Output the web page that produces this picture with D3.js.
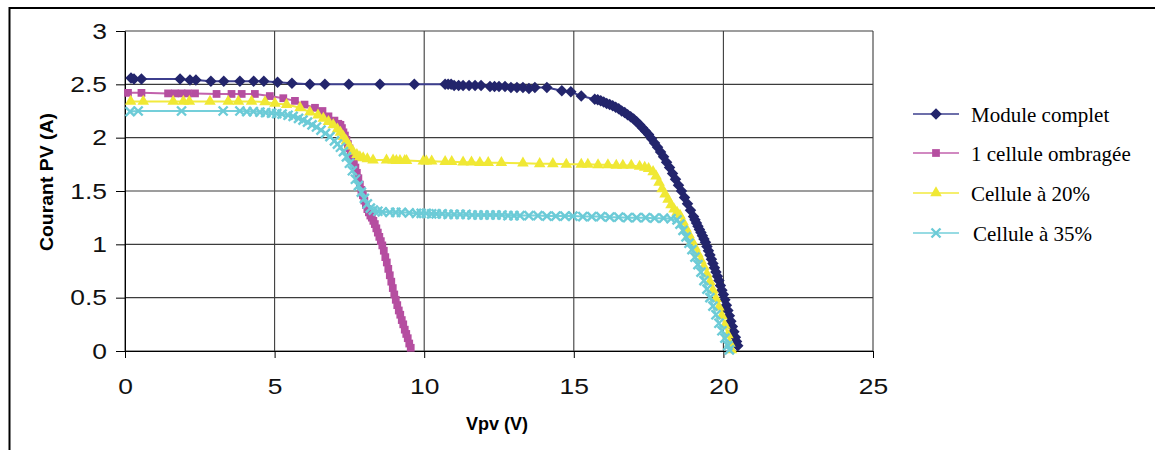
<!DOCTYPE html>
<html>
<head>
<meta charset="utf-8">
<script src="https://cdn.jsdelivr.net/npm/d3@7"></script>
<style>
body { margin: 0; background: #fff; }
</style>
</head>
<body>
<div id="chart"></div>
<script>
// data
const xTicks = [0, 5, 10, 15, 20, 25];
const yTicks = [0, 0.5, 1, 1.5, 2, 2.5, 3];
const seriesNames = ['Module complet', '1 cellule ombragée', 'Cellule à 20%', 'Cellule à 35%'];

const moduleV = [0.2, 0.3, 0.55, 1.84, 2.17, 2.37, 2.87, 3.3, 3.84, 4.3, 4.64, 5.1, 5.58, 6.18, 6.68, 7.48, 8.52, 9.67,
  10.7, 10.8, 10.9, 11.0, 11.15, 11.3, 11.5, 11.7, 11.9, 12.2, 12.35, 12.5, 12.7, 12.9, 13.1, 13.3, 13.5, 13.7, 14.1,
  14.6, 14.9, 15.25, 15.7, 15.8, 15.9, 16.0, 16.1, 16.2, 16.3, 16.4, 16.5, 16.6, 16.7, 16.8, 16.9, 17.0, 17.1, 17.2,
  17.3, 17.4, 17.5, 17.6, 17.7, 17.8, 17.9, 18.0, 18.1, 18.2, 18.3, 18.4, 18.5, 18.6, 18.7, 18.8, 18.9, 19.0, 19.05,
  19.1, 19.15, 19.2, 19.25, 19.3, 19.35, 19.4, 19.45, 19.5, 19.55, 19.6, 19.65, 19.7, 19.75, 19.8, 19.85, 19.9, 19.95,
  20.0, 20.05, 20.1, 20.15, 20.2, 20.25, 20.3, 20.35, 20.4, 20.44, 20.48];
const moduleI = [2.56, 2.55, 2.55, 2.55, 2.54, 2.54, 2.53, 2.53, 2.53, 2.53, 2.53, 2.52, 2.51, 2.5, 2.5, 2.5, 2.5, 2.5,
  2.5, 2.5, 2.5, 2.49, 2.49, 2.49, 2.49, 2.49, 2.49, 2.48, 2.48, 2.48, 2.48, 2.47, 2.47, 2.47, 2.46, 2.47, 2.47,
  2.44, 2.43, 2.39, 2.36, 2.355, 2.345, 2.335, 2.32, 2.31, 2.3, 2.285, 2.27, 2.25, 2.235, 2.215, 2.195, 2.175, 2.15, 2.12,
  2.09, 2.06, 2.03, 1.99, 1.95, 1.91, 1.865, 1.82, 1.77, 1.72, 1.665, 1.61, 1.555, 1.5, 1.44, 1.38, 1.32, 1.26, 1.23,
  1.2, 1.17, 1.14, 1.11, 1.08, 1.05, 1.02, 0.98, 0.94, 0.9, 0.86, 0.82, 0.78, 0.74, 0.7, 0.66, 0.615, 0.57,
  0.53, 0.48, 0.43, 0.38, 0.33, 0.28, 0.23, 0.18, 0.13, 0.09, 0.05];

const shadedV = [0.1, 0.55, 1.44, 1.67, 1.89, 2.1, 2.34, 3.06, 3.56, 3.9, 4.34, 4.84, 5.29, 5.68, 6.0, 6.35, 6.6, 6.8, 7.0, 7.13,
  7.2, 7.25, 7.3, 7.35, 7.4, 7.45, 7.5, 7.55, 7.6, 7.65, 7.7, 7.75, 7.8, 7.85, 7.9, 7.95, 8.0, 8.05, 8.1, 8.15, 8.2, 8.25,
  8.3, 8.35, 8.4, 8.45, 8.5, 8.55, 8.6, 8.65, 8.7, 8.75, 8.8, 8.85, 8.9, 8.95, 9.0, 9.05, 9.1, 9.15, 9.2, 9.25, 9.3, 9.35,
  9.4, 9.45, 9.5, 9.55];
const shadedI = [2.42, 2.42, 2.415, 2.415, 2.415, 2.415, 2.415, 2.41, 2.41, 2.41, 2.41, 2.39, 2.37, 2.345, 2.31, 2.28, 2.25, 2.2, 2.16, 2.13,
  2.12, 2.09, 2.05, 2.02, 1.98, 1.94, 1.9, 1.86, 1.81, 1.77, 1.72, 1.67, 1.62, 1.56, 1.51, 1.46, 1.41, 1.37, 1.33, 1.3, 1.27, 1.25,
  1.22, 1.19, 1.15, 1.11, 1.07, 1.03, 0.99, 0.94, 0.88, 0.83, 0.77, 0.71, 0.65, 0.59, 0.53, 0.48, 0.43, 0.38, 0.34, 0.29, 0.25, 0.2,
  0.16, 0.12, 0.07, 0.03];

const cell20V = [0.19, 0.61, 1.61, 1.95, 2.15, 2.84, 3.45, 3.79, 4.23, 4.68, 5.01, 5.4, 5.85, 6.18, 6.45, 6.63, 6.8, 6.96, 7.1, 7.2,
  7.3, 7.4, 7.5, 7.62, 7.75, 7.85, 7.96, 8.1, 8.29, 8.74, 8.96, 9.07, 9.19, 9.35, 9.41, 9.97, 10.07, 10.25, 10.7, 10.92, 11.3,
  11.58, 11.86, 12.14, 12.58, 13.3, 13.86, 14.3, 14.75, 15.25, 15.47, 15.81, 16.14, 16.42, 16.64, 16.92, 17.2, 17.37, 17.5,
  17.65, 17.75, 17.85, 17.95, 18.05, 18.15, 18.25, 18.35, 18.45, 18.55, 18.65, 18.75, 18.85, 18.95, 19.05, 19.15, 19.25,
  19.35, 19.45, 19.55, 19.65, 19.75, 19.85, 19.95, 20.05, 20.15, 20.22, 20.27];
const cell20I = [2.34, 2.34, 2.34, 2.34, 2.34, 2.34, 2.34, 2.34, 2.34, 2.335, 2.32, 2.31, 2.28, 2.24, 2.21, 2.18, 2.15, 2.12, 2.08, 2.05,
  2.01, 1.97, 1.92, 1.87, 1.84, 1.82, 1.81, 1.8, 1.79, 1.79, 1.79, 1.785, 1.785, 1.785, 1.785, 1.78, 1.78, 1.78, 1.775, 1.775, 1.77,
  1.77, 1.765, 1.765, 1.765, 1.76, 1.755, 1.755, 1.75, 1.75, 1.75, 1.745, 1.745, 1.74, 1.74, 1.74, 1.73, 1.72, 1.71,
  1.68, 1.64, 1.58, 1.52, 1.47, 1.42, 1.37, 1.33, 1.3, 1.27, 1.21, 1.15, 1.09, 1.03, 0.97, 0.91, 0.85,
  0.79, 0.72, 0.65, 0.57, 0.49, 0.41, 0.33, 0.24, 0.15, 0.07, 0.01];

const cell35V = [0.17, 0.44, 1.89, 3.28, 3.84, 4.07, 4.29, 4.51, 4.7, 4.9, 5.07, 5.25, 5.45, 5.62, 5.8, 5.95, 6.1, 6.25, 6.4, 6.55,
  6.7, 6.85, 7.0, 7.1, 7.2, 7.3, 7.4, 7.5, 7.6, 7.7, 7.8, 7.9, 8.0, 8.1, 8.2, 8.3, 8.45, 8.6, 8.85, 9.05, 9.24, 9.5, 9.74, 9.9,
  10.07, 10.25, 10.4, 10.6, 10.8, 11.0, 11.2, 11.4, 11.6, 11.8, 12.0, 12.2, 12.4, 12.6, 12.8, 13.0, 13.2, 13.5, 13.8, 14.1,
  14.4, 14.7, 14.97, 15.3, 15.6, 15.9, 16.2, 16.5, 16.8, 17.1, 17.4, 17.7, 18.0, 18.25, 18.45, 18.55, 18.65, 18.75, 18.85,
  18.95, 19.05, 19.15, 19.25, 19.35, 19.45, 19.55, 19.65, 19.75, 19.85, 19.95, 20.05, 20.15, 20.2];
const cell35I = [2.245, 2.25, 2.25, 2.25, 2.25, 2.245, 2.245, 2.24, 2.235, 2.23, 2.225, 2.22, 2.21, 2.2, 2.18, 2.165, 2.145, 2.12, 2.1, 2.07,
  2.04, 2.01, 1.97, 1.94, 1.91, 1.87, 1.82, 1.76, 1.69, 1.61, 1.55, 1.49, 1.43, 1.38, 1.34, 1.32, 1.31, 1.305, 1.3, 1.3, 1.3, 1.295, 1.29, 1.29,
  1.29, 1.285, 1.285, 1.285, 1.28, 1.28, 1.28, 1.28, 1.275, 1.275, 1.275, 1.275, 1.275, 1.275, 1.27, 1.27, 1.27, 1.27, 1.27, 1.265,
  1.265, 1.265, 1.265, 1.26, 1.26, 1.26, 1.255, 1.255, 1.25, 1.25, 1.25, 1.245, 1.245, 1.24, 1.23, 1.19, 1.13, 1.07, 1.01,
  0.95, 0.88, 0.81, 0.74, 0.66, 0.58, 0.5, 0.42, 0.34, 0.26, 0.19, 0.12, 0.05, 0.01];

const width = 1155;
const height = 450;
const margin = {top: 31, left: 125, bottom: 99, right: 282};

const series = [
  {name: seriesNames[0], v: moduleV, i: moduleI, line: '#3d3f8e', fill: '#23256c', shape: 'diamond'},
  {name: seriesNames[1], v: shadedV, i: shadedI, line: '#c262ac', fill: '#b54ea0', shape: 'square'},
  {name: seriesNames[2], v: cell20V, i: cell20I, line: '#f2ea3e', fill: '#f0e834', shape: 'triangle'},
  {name: seriesNames[3], v: cell35V, i: cell35I, line: '#74cfda', fill: '#6ccbd7', shape: 'cross'}
];

const x = d3.scaleLinear()
  .domain([0, 25])
  .range([margin.left, width - margin.right]);

const y = d3.scaleLinear()
  .domain([0, 3])
  .range([height - margin.bottom, margin.top]);

const svg = d3.select('#chart').append('svg')
  .attr('width', width)
  .attr('height', height);

// outer frame
svg.append('line').attr('x1', 9.5).attr('x2', 9.5).attr('y1', 7).attr('y2', height)
  .attr('stroke', '#000').attr('stroke-width', 2);
svg.append('line').attr('x1', 9).attr('x2', width).attr('y1', 8).attr('y2', 8)
  .attr('stroke', '#000').attr('stroke-width', 2);

// grid
const grid = svg.append('g').attr('stroke', '#3c3c3c').attr('stroke-width', 1.1);
grid.selectAll('.gy').data(yTicks).enter().append('line')
  .attr('x1', x(0)).attr('x2', x(25))
  .attr('y1', d => y(d)).attr('y2', d => y(d));
grid.selectAll('.gx').data(xTicks).enter().append('line')
  .attr('y1', y(0)).attr('y2', y(3))
  .attr('x1', d => x(d)).attr('x2', d => x(d));

function stretch(sel, k) {
  sel.each(function() {
    const w = this.getComputedTextLength();
    this.setAttribute('textLength', w * k);
    this.setAttribute('lengthAdjust', 'spacingAndGlyphs');
  });
}

const xAxis = g => g
  .attr('transform', `translate(0, ${y(0)})`)
  .call(d3.axisBottom(x).tickValues(xTicks).tickFormat(d => String(d)).tickSize(7).tickPadding(20).tickSizeOuter(0))
  .call(g => g.selectAll('text').attr('font-family', 'Liberation Sans, Arial, sans-serif').attr('font-size', 22).attr('fill', '#111'))
  .call(g => g.selectAll('line').attr('stroke', '#000'))
  .call(g => g.select('.domain').attr('stroke', '#000'));

const yAxis = g => g
  .attr('transform', `translate(${x(0)}, 0)`)
  .call(d3.axisLeft(y).tickValues(yTicks).tickFormat(d => String(d)).tickSize(9).tickPadding(9).tickSizeOuter(0))
  .call(g => g.selectAll('text').attr('font-family', 'Liberation Sans, Arial, sans-serif').attr('font-size', 22).attr('fill', '#111'))
  .call(g => g.selectAll('line').attr('stroke', '#000'))
  .call(g => g.select('.domain').attr('stroke', '#000'));

const gx = svg.append('g').call(xAxis);
const gy = svg.append('g').call(yAxis);
stretch(gx.selectAll('text'), 1.2);
stretch(gy.selectAll('text'), 1.2);

svg.append('text')
  .attr('x', 497).attr('y', 430)
  .attr('text-anchor', 'middle')
  .attr('font-family', 'Liberation Sans, Arial, sans-serif')
  .attr('font-weight', 'bold').attr('font-size', 18)
  .text('Vpv (V)');

svg.append('text')
  .attr('transform', 'translate(53, 182) rotate(-90)')
  .attr('text-anchor', 'middle')
  .attr('font-family', 'Liberation Sans, Arial, sans-serif')
  .attr('font-weight', 'bold').attr('font-size', 18)
  .attr('textLength', 138).attr('lengthAdjust', 'spacingAndGlyphs')
  .text('Courant PV (A)');

// markers
function drawMarker(g, shape, color) {
  if (shape === 'diamond') {
    g.append('path').attr('d', d3.symbol(d3.symbolSquare, 66)()).attr('transform', 'rotate(45)').attr('fill', color);
  } else if (shape === 'square') {
    g.append('path').attr('d', d3.symbol(d3.symbolSquare, 60)()).attr('fill', color);
  } else if (shape === 'triangle') {
    g.append('path').attr('d', d3.symbol(d3.symbolTriangle, 58)()).attr('fill', color);
  } else {
    g.append('path').attr('d', 'M-4.5,-4.5L4.5,4.5M-4.5,4.5L4.5,-4.5').attr('stroke', color).attr('stroke-width', 2.4).attr('fill', 'none');
  }
}

const line = d3.line().x(d => x(d[0])).y(d => y(d[1]));

series.forEach(s => {
  const pts = s.v.map((v, k) => [v, s.i[k]]);
  const g = svg.append('g');
  g.append('path').datum(pts)
    .attr('d', line)
    .attr('fill', 'none')
    .attr('stroke', s.line)
    .attr('stroke-width', 2);
  g.selectAll('g').data(pts).enter().append('g')
    .attr('transform', d => `translate(${x(d[0])}, ${y(d[1])})`)
    .each(function() { drawMarker(d3.select(this), s.shape, s.fill); });
});

// legend
const legendRows = [114, 153, 193, 233];
const legend = svg.append('g');
series.forEach((s, k) => {
  const r = legendRows[k];
  legend.append('line').attr('x1', 913).attr('x2', 959).attr('y1', r).attr('y2', r)
    .attr('stroke', s.line).attr('stroke-width', 1.6);
  const m = legend.append('g').attr('transform', `translate(936, ${r})`);
  drawMarker(m, s.shape, s.fill);
  legend.append('text')
    .attr('x', k === 3 ? 973 : 971).attr('y', r + 7.5)
    .attr('font-family', 'Liberation Serif, Times New Roman, serif')
    .attr('font-size', 21)
    .attr('fill', '#000')
    .text(s.name);
});
</script>
</body>
</html>
